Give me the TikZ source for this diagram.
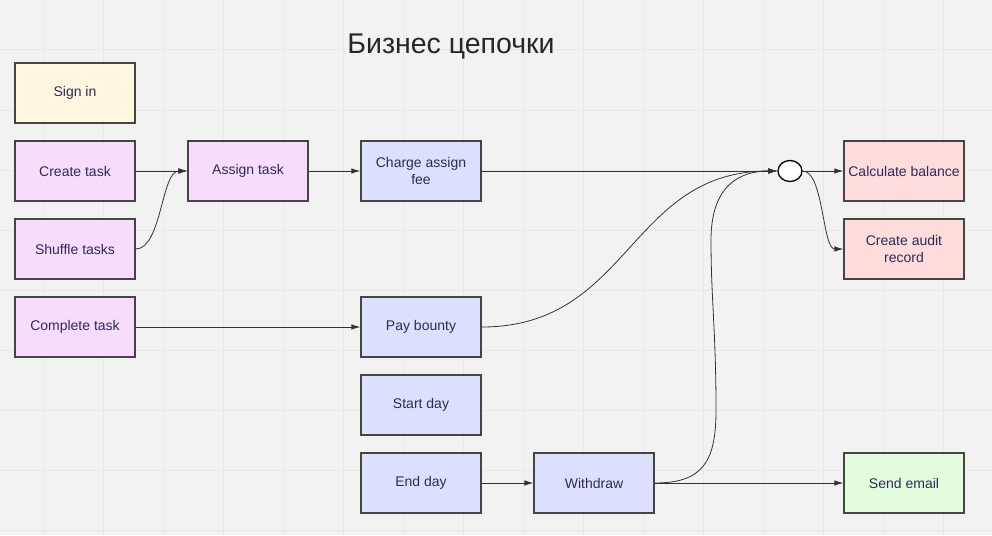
\documentclass[tikz,border=0pt]{standalone}
\usepackage{fontspec}
\setmainfont{Liberation Sans}
\usetikzlibrary{arrows.meta,shapes.geometric}
\definecolor{bg}{HTML}{F2F2F2}
\definecolor{gridc}{HTML}{E8E8E8}
\definecolor{boxborder}{HTML}{444444}
\definecolor{txt}{HTML}{2E2A58}
\definecolor{fyellow}{HTML}{FFF7DD}
\definecolor{fpurple}{HTML}{F8DCFC}
\definecolor{fblue}{HTML}{DDE0FC}
\definecolor{fred}{HTML}{FDDCDB}
\definecolor{fgreen}{HTML}{E3FCDC}
\definecolor{linec}{HTML}{333333}
\tikzset{
  box/.style={draw=boxborder, line width=1.3pt, minimum width=120pt, minimum height=60pt,
    inner sep=1pt, align=center, text=txt, font=\fontsize{14}{17}\selectfont},
  ybox/.style={box, fill=fyellow},
  pbox/.style={box, fill=fpurple},
  bbox/.style={box, fill=fblue},
  rbox/.style={box, fill=fred},
  gbox/.style={box, fill=fgreen},
  conn/.style={draw=linec, line width=0.8pt, -{Latex[length=9pt,width=5.5pt]}},
  junction/.style={ellipse, draw=black, line width=1.3pt, fill=white, minimum width=24pt, minimum height=21pt, inner sep=0pt}
}
\begin{document}
\begin{tikzpicture}[x=1pt,y=-1pt]
\fill[bg] (0,0) rectangle (992,535);
\useasboundingbox (0,0) rectangle (992,535);
\foreach \gx in {43,103,...,983} \draw[gridc, line width=1pt] (\gx,0) -- (\gx,535);
\foreach \gy in {50,110,...,530} \draw[gridc, line width=1pt] (0,\gy) -- (992,\gy);

\node[text=black!85, font=\fontsize{28.5}{32}\selectfont] (title) at (451,47) {Бизнес цепочки};

\node[ybox] (signin) at (75,93) {Sign in};
\node[pbox] (create) at (75,171) {Create task};
\node[pbox] (shuffle) at (75,249) {Shuffle tasks};
\node[pbox] (complete) at (75,327) {Complete task};
\node[pbox] (assign) at (248,171) {Assign task};
\node[bbox] (charge) at (421,171) {Charge assign\\fee};
\node[bbox] (pay) at (421,327) {Pay bounty};
\node[bbox] (start) at (421,405) {Start day};
\node[bbox] (end) at (421,483) {End day};
\node[bbox] (withdraw) at (594,483) {Withdraw};
\node[junction] (junc) at (790,171) {};
\node[rbox] (calc) at (904,171) {Calculate balance};
\node[rbox] (audit) at (904,249) {Create audit\\record};
\node[gbox] (email) at (904,483) {Send email};

\draw[conn] (create.east) -- (assign.west);
\draw[conn] (shuffle.east) .. controls +(26,0) and +(-26,0) .. (assign.west);
\draw[conn] (assign.east) -- (charge.west);
\draw[conn] (charge.east) -- (junc.west);
\draw[conn] (complete.east) -- (pay.west);
\draw[conn] (pay.east) .. controls +(149,0) and +(-149,0) .. (junc.west);
\draw[conn] (end.east) -- (withdraw.west);
\draw[conn] (withdraw.east) .. controls +(48,0) and (716,462) .. (716,410)
  .. controls (716,330) and (711,300) .. (711,240)
  .. controls (711,185) and (740,171) .. (junc.west);
\draw[conn] (withdraw.east) -- (email.west);
\draw[conn] (junc.east) -- (calc.west);
\draw[conn] (junc.east) .. controls +(21,0) and +(-21,0) .. (audit.west);
\end{tikzpicture}
\end{document}
